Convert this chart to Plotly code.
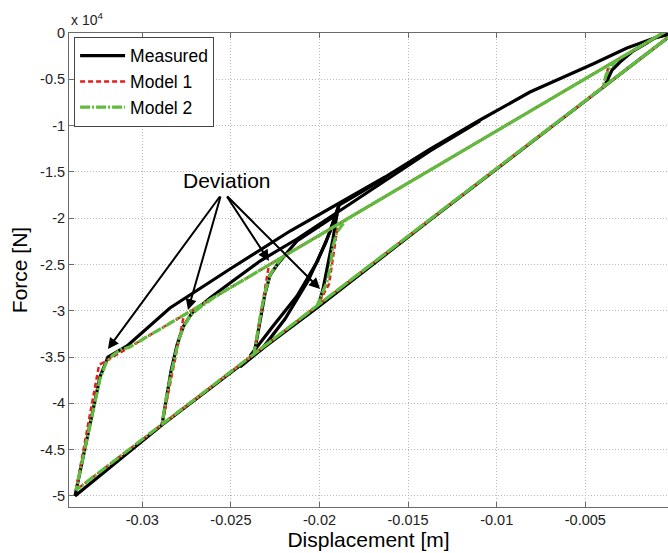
import plotly.graph_objects as go

# ---------------- data: displacement [m], force [N] ----------------
# Measured (black) branches
meas_load_x = [0, -0.00812, -0.01376, -0.02008, -0.02370, -0.02889, -0.03380]
meas_load_y = [0, -11880, -20196, -29592, -34776, -42336, -50000]
meas_outer_x = [-0.03380, -0.03323, -0.03278, -0.03239, -0.03194, -0.03137, -0.03086, -0.02844,
                -0.02505, -0.02166, -0.01896, -0.01630, -0.01376, -0.01094, -0.00812, -0.00643,
                -0.00457, -0.00265, -0.00078, 0]
meas_outer_y = [-50000, -44928, -40608, -37152, -34992, -34344, -33804, -29700,
                -25488, -21384, -18468, -15552, -12528, -9396, -6372, -4968,
                -3348, -1620, -324, 0]
meas_loop2_x = [-0.02889, -0.02866, -0.02838, -0.02804, -0.02770, -0.02720, -0.02618, -0.02505,
                -0.02336, -0.02127, -0.01896, -0.01630, -0.01376, -0.01094]
meas_loop2_y = [-42336, -39528, -36504, -33696, -31752, -30240, -28620, -27000,
                -24624, -22248, -19332, -15876, -12744, -9504]
meas_loop3_x = [-0.02370, -0.02336, -0.02308, -0.02279, -0.02240, -0.02166, -0.02127, -0.01896]
meas_loop3_y = [-34776, -31104, -28188, -26136, -25056, -23328, -22464, -19548]
meas_loop4_x = [-0.02008, -0.01980, -0.01958, -0.01924, -0.01901, -0.01890, -0.01630]
meas_loop4_y = [-29592, -27648, -25488, -22248, -19548, -18576, -15660]
meas_back1_x = [-0.01890, -0.01941, -0.02014, -0.02127, -0.02262, -0.02392]
meas_back1_y = [-18576, -21492, -24732, -28404, -31644, -34884]
meas_back2_x = [-0.01890, -0.01963, -0.02065, -0.02195, -0.02325, -0.02449]
meas_back2_y = [-18576, -22572, -26784, -30888, -34128, -36072]
meas_small_x = [-0.00389, -0.00372, -0.00349, -0.00304, -0.00231, -0.00163, -0.00107, 0]
meas_small_y = [-5616, -4860, -3996, -3132, -1944, -1188, -540, 0]

# Models: reversal points on the loading line, and the end of the unloading line
model_origin = (0, 0)
model_upper_end = (0, 700)
# Model 1 (bilinear) unloading branches, per cycle
m1_small_x, m1_small_y = [-0.00400, -0.00366], [-5852, -3424]
m1_loop4_x, m1_loop4_y = [-0.02014, -0.01946, -0.01896], [-29464, -27108, -20666]
m1_loop3_x, m1_loop3_y = [-0.02370, -0.02285], [-34672, -25049]
m1_loop2_x, m1_loop2_y = [-0.02889, -0.02765], [-42265, -30458]
m1_outer_x, m1_outer_y = [-0.03374, -0.03244], [-49360, -35856]
# Model 2 (smooth) unloading branches, per cycle
m2_small_x = [-0.00400, -0.00383, -0.00361, -0.00327]
m2_small_y = [-5852, -4536, -3780, -2985]
m2_loop4_x = [-0.02014, -0.01986, -0.01958, -0.01941, -0.01924, -0.01901, -0.01850]
m2_loop4_y = [-29464, -28188, -26892, -25488, -23004, -21492, -20147]
m2_loop3_x = [-0.02370, -0.02347, -0.02325, -0.02302, -0.02279, -0.02245, -0.02206]
m2_loop3_y = [-34672, -31968, -29592, -27648, -26136, -25056, -24159]
m2_loop2_x = [-0.02889, -0.02866, -0.02838, -0.02815, -0.02793, -0.02765, -0.02731, -0.02686,
              -0.02629, -0.02590]
m2_loop2_y = [-42265, -39528, -36828, -34884, -33048, -31644, -30564, -29808, -29052, -28486]
m2_outer_x = [-0.03374, -0.03323, -0.03278, -0.03239, -0.03205, -0.03171, -0.03126, -0.03069]
m2_outer_y = [-49360, -44712, -40608, -37368, -35640, -34884, -34236, -33884]

# Annotation arrows ("Deviation")
dev_label = (-0.02522, -15876)
arrow_tail_x = [-0.02556, -0.02556, -0.02528, -0.02528]
arrow_tail_y = [-17496, -17496, -17496, -17496]
arrow_head_x = [-0.03194, -0.02742, -0.02285, -0.01997]
arrow_head_y = [-34128, -29916, -24624, -27648]

# Ticks
x_tickvals = [-0.03, -0.025, -0.02, -0.015, -0.01, -0.005]
x_ticktext = ["-0.03", "-0.025", "-0.02", "-0.015", "-0.01", "-0.005"]
y_tickvals = [0, -5000, -10000, -15000, -20000, -25000, -30000, -35000, -40000, -45000, -50000]
y_ticktext = ["0", "-0.5", "-1", "-1.5", "-2", "-2.5", "-3", "-3.5", "-4", "-4.5", "-5"]


# ---------------- build paths ----------------
def join_segments(segs):
    xs, ys = [], []
    for sx, sy in segs:
        xs += list(sx) + [None]
        ys += list(sy) + [None]
    return xs, ys


def model_path(loops):
    xs, ys = [], []
    for lx, ly in loops:
        xs += [model_origin[0]] + list(lx) + [model_upper_end[0]]
        ys += [model_origin[1]] + list(ly) + [model_upper_end[1]]
    return xs, ys


mx, my = join_segments([
    (meas_load_x, meas_load_y), (meas_outer_x, meas_outer_y), (meas_loop2_x, meas_loop2_y),
    (meas_loop3_x, meas_loop3_y), (meas_loop4_x, meas_loop4_y), (meas_back1_x, meas_back1_y),
    (meas_back2_x, meas_back2_y), (meas_small_x, meas_small_y),
])
m1x, m1y = model_path([(m1_small_x, m1_small_y), (m1_loop4_x, m1_loop4_y),
                       (m1_loop3_x, m1_loop3_y), (m1_loop2_x, m1_loop2_y),
                       (m1_outer_x, m1_outer_y)])
m2x, m2y = model_path([(m2_small_x, m2_small_y), (m2_loop4_x, m2_loop4_y),
                       (m2_loop3_x, m2_loop3_y), (m2_loop2_x, m2_loop2_y),
                       (m2_outer_x, m2_outer_y)])

FONT = "Liberation Sans, Arial, Helvetica, sans-serif"
GREEN = "rgb(95,188,62)"
RED = "rgb(228,28,28)"

fig = go.Figure()
fig.add_trace(go.Scatter(x=mx, y=my, mode="lines", name="Measured",
                         line=dict(color="black", width=3.2), connectgaps=False))
fig.add_trace(go.Scatter(x=m1x, y=m1y, mode="lines", name="Model 1",
                         line=dict(color=RED, width=2.5, dash="5px,3px")))
fig.add_trace(go.Scatter(x=m2x, y=m2y, mode="lines", name="Model 2",
                         line=dict(color=GREEN, width=3.2, dash="10px,2px,2px,2px")))

annotations = []
for hx, hy, tx, ty in zip(arrow_head_x, arrow_head_y, arrow_tail_x, arrow_tail_y):
    annotations.append(dict(x=hx, y=hy, ax=tx, ay=ty, xref="x", yref="y", axref="x", ayref="y",
                            text="", showarrow=True, arrowhead=2, arrowsize=1.1, arrowwidth=2,
                            arrowcolor="black", standoff=0, startstandoff=0))
annotations.append(dict(x=dev_label[0], y=dev_label[1], xref="x", yref="y", text="Deviation",
                        showarrow=False, font=dict(family=FONT, size=21, color="black")))
annotations.append(dict(x=0, y=1, xref="paper", yref="paper", xanchor="left", yanchor="bottom",
                        yshift=3, text="x 10<sup>4</sup>", showarrow=False,
                        font=dict(family=FONT, size=14, color="#222")))

axis_common = dict(showline=True, linecolor="#6a6a6a", linewidth=1, ticks="inside", ticklen=5,
                   tickcolor="#6a6a6a", showgrid=True, gridcolor="#b8b8b8", gridwidth=1,
                   griddash="1px,2px", zeroline=False,
                   tickfont=dict(family=FONT, size=14.5, color="#222"))

fig.update_layout(
    width=668, height=553, autosize=False,
    margin=dict(l=69, r=0, t=33, b=46),
    paper_bgcolor="white", plot_bgcolor="white",
    font=dict(family=FONT, color="black"),
    showlegend=True,
    legend=dict(x=0.0085, y=0.992, xanchor="left", yanchor="top", bgcolor="white",
                bordercolor="#444", borderwidth=1, font=dict(family=FONT, size=17.5, color="black"),
                itemwidth=45, tracegroupgap=0),
    annotations=annotations,
    xaxis=dict(range=[-0.034137, -0.000333], tickvals=x_tickvals, ticktext=x_ticktext,
               mirror="ticks",
               title=dict(text="Displacement [m]", font=dict(family=FONT, size=21, color="black"),
                          standoff=2),
               **axis_common),
    yaxis=dict(range=[-51190, 0], tickvals=y_tickvals, ticktext=y_ticktext, mirror=False,
               title=dict(text="Force [N]", font=dict(family=FONT, size=21, color="black"),
                          standoff=6),
               **axis_common),
)

fig.write_html("out.html")
